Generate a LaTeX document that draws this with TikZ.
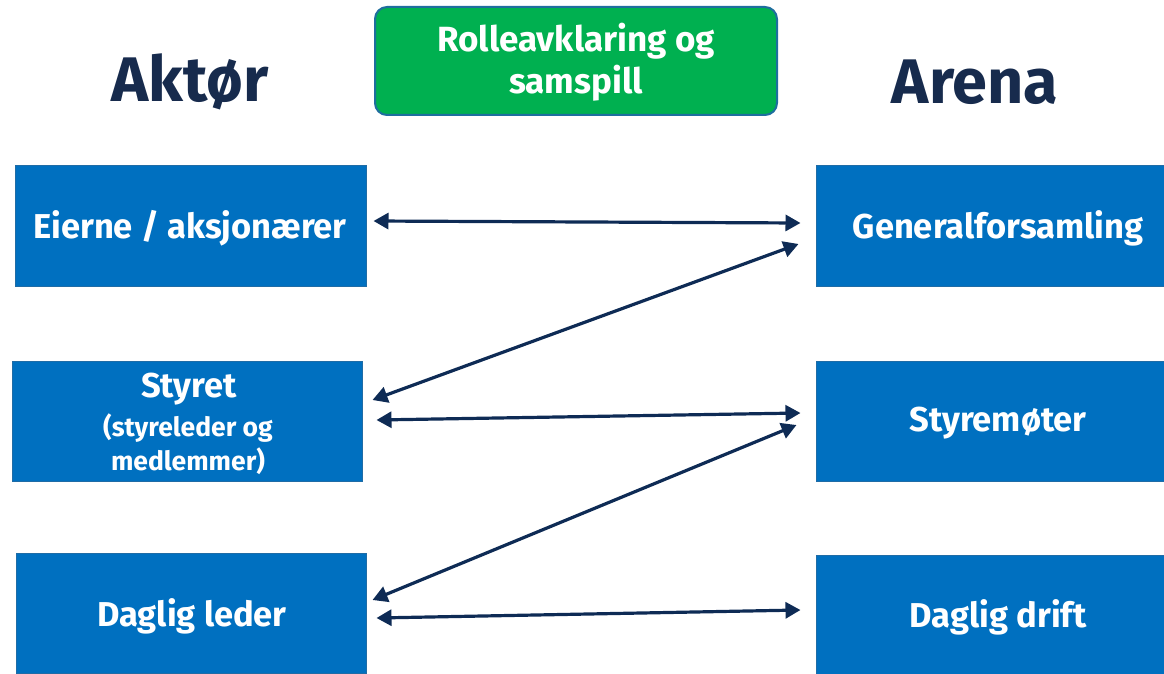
\documentclass[tikz,border=0pt]{standalone}
\usepackage{fontspec}
\setmainfont{Fira Sans}
\usetikzlibrary{arrows.meta,calc}
\definecolor{boxblue}{HTML}{0070C0}
\definecolor{boxedge}{HTML}{1F6CA6}
\definecolor{greenfill}{HTML}{00B050}
\definecolor{greenedge}{HTML}{1E6E9E}
\definecolor{navy}{HTML}{172B4D}
\definecolor{arrowcol}{HTML}{0E2B55}
\tikzset{
  rolebox/.style={rectangle, fill=boxblue, draw=boxedge, line width=1pt,
    minimum width=350pt, minimum height=120pt, inner sep=0pt},
  boxtext/.style={text=white, font=\bfseries\fontsize{34.5}{40}\selectfont, align=center, inner sep=0pt},
  smalltext/.style={text=white, font=\bfseries\fontsize{26.5}{34}\selectfont, align=center, inner sep=0pt},
  heading/.style={text=navy, font=\bfseries\fontsize{63}{70}\selectfont, inner sep=0pt},
  link/.style={draw=arrowcol, line width=3.2pt,
    {Triangle[length=15pt,width=16pt]}-{Triangle[length=15pt,width=16pt]}}
}
\begin{document}
\begin{tikzpicture}[x=1pt,y=-1pt]
\useasboundingbox (0,0) rectangle (1164,674);

% headings
\node[heading] (aktor) at (190,82) {Aktør};
\node[heading] (arena) at (975,82) {Arena};
\node[rectangle, rounded corners=12pt, fill=greenfill, draw=greenedge, line width=2pt,
  minimum width=402pt, minimum height=108pt] (rolle) at (576,61) {};
\node[boxtext, font=\bfseries\fontsize{35}{42}\selectfont] (rolletxt) at (576,62)
  {Rolleavklaring og\\samspill};

% actors
\node[rolebox, minimum width=351pt, minimum height=121pt] (eier) at (190.5,225.5) {};
\node[rolebox] (styret) at (187,421) {};
\node[rolebox] (leder) at (191,613) {};
\node[boxtext] (eiertxt) at (190,228) {Eierne / aksjonærer};
\node[boxtext] (styrettxt) at (189,389) {Styret};
\node[smalltext] (styretsub) at (188,444) {(styreleder og\\medlemmer)};
\node[boxtext] (ledertxt) at (192,616) {Daglig leder};

% arenas
\node[rolebox, minimum width=348pt, minimum height=121pt] (gen) at (990,225.5) {};
\node[rolebox, minimum width=348pt] (moter) at (990,421) {};
\node[rolebox, minimum width=348pt, minimum height=119pt] (drift) at (990,614.5) {};
\node[boxtext] (gentxt) at (998,228) {Generalforsamling};
\node[boxtext] (motertxt) at (998,423) {Styremøter};
\node[boxtext] (drifttxt) at (998,617) {Daglig drift};

% connections
\draw[link] ($(eier.east)+(7,-4.5)$) -- ($(gen.west)+(-15,-2.5)$);
\draw[link] ($(styret.east)+(10,-21)$) -- ($(gen.west)+(-17,18.5)$);
\draw[link] ($(styret.east)+(14,-1)$) -- ($(moter.west)+(-15,-8)$);
\draw[link] ($(leder.east)+(6,-13)$) -- ($(moter.west)+(-19,4)$);
\draw[link] ($(leder.east)+(10,5)$) -- ($(drift.west)+(-15,-4.5)$);
\end{tikzpicture}
\end{document}
